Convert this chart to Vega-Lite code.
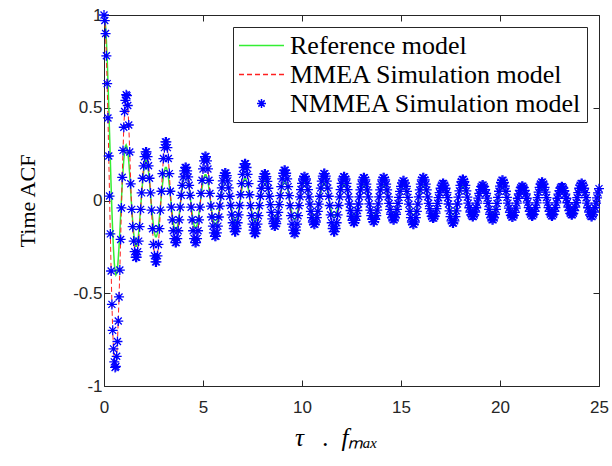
{
 "$schema": "https://vega.github.io/schema/vega-lite/v6.json",
 "width": 495, "height": 371,
 "autosize": {"type": "none"},
 "padding": {"left": 104, "top": 15, "right": 13, "bottom": 80},
 "background": "white",
 "config": {
  "view": {"stroke": "#262626", "strokeWidth": 1},
  "axis": {"grid": false, "domain": false, "tickSize": -6, "tickColor": "#262626", "tickWidth": 1, "labelFlush": false,
   "labelFont": "Liberation Sans", "labelFontSize": 17, "labelColor": "#262626",
   "titleFont": "Liberation Serif", "titleFontWeight": "normal", "titleColor": "#000000", "titleFontSize": 22}
 },
 "data": {"values": [
{"x":0,"r":1,"s":1},{"x":0.04,"r":0.984,"s":0.97},{"x":0.08,"r":0.938,"s":0.9},{"x":0.12,"r":0.863,"s":0.78},{"x":0.16,"r":0.763,"s":0.63},{"x":0.2,"r":0.643,"s":0.445},{"x":0.24,"r":0.507,"s":0.24},{"x":0.28,"r":0.364,"s":0.024},{"x":0.32,"r":0.218,"s":-0.18},{"x":0.36,"r":0.076,"s":-0.38},{"x":0.4,"r":-0.055,"s":-0.56},{"x":0.44,"r":-0.17,"s":-0.7},{"x":0.48,"r":-0.265,"s":-0.8},{"x":0.52,"r":-0.336,"s":-0.87},{"x":0.56,"r":-0.382,"s":-0.9},{"x":0.6,"r":-0.402,"s":-0.895},{"x":0.64,"r":-0.395,"s":-0.84},{"x":0.68,"r":-0.365,"s":-0.76},{"x":0.72,"r":-0.315,"s":-0.65},{"x":0.76,"r":-0.248,"s":-0.52},{"x":0.8,"r":-0.169,"s":-0.375},{"x":0.84,"r":-0.083,"s":-0.21},{"x":0.88,"r":0.003,"s":-0.04},{"x":0.92,"r":0.086,"s":0.125},{"x":0.96,"r":0.159,"s":0.27},{"x":1,"r":0.22,"s":0.395},{"x":1.04,"r":0.265,"s":0.48},{"x":1.08,"r":0.292,"s":0.54},{"x":1.12,"r":0.3,"s":0.57},{"x":1.16,"r":0.289,"s":0.565},{"x":1.2,"r":0.26,"s":0.512},
{"x":1.25,"r":0.212,"s":0.407},{"x":1.3,"r":0.136,"s":0.261},{"x":1.35,"r":0.047,"s":0.09},{"x":1.4,"r":-0.039,"s":-0.048},{"x":1.45,"r":-0.113,"s":-0.141},{"x":1.5,"r":-0.177,"s":-0.219},{"x":1.55,"r":-0.223,"s":-0.276},{"x":1.6,"r":-0.247,"s":-0.306},{"x":1.65,"r":-0.247,"s":-0.306},{"x":1.7,"r":-0.223,"s":-0.276},{"x":1.75,"r":-0.177,"s":-0.219},{"x":1.8,"r":-0.113,"s":-0.141},{"x":1.85,"r":-0.039,"s":-0.048},{"x":1.9,"r":0.034,"s":0.041},{"x":1.95,"r":0.099,"s":0.12},
{"x":2,"r":0.154,"s":0.187},{"x":2.05,"r":0.194,"s":0.236},{"x":2.1,"r":0.215,"s":0.262},{"x":2.15,"r":0.215,"s":0.262},{"x":2.2,"r":0.194,"s":0.236},{"x":2.25,"r":0.154,"s":0.187},{"x":2.3,"r":0.099,"s":0.12},{"x":2.35,"r":0.034,"s":0.041},{"x":2.4,"r":-0.031,"s":-0.052},{"x":2.45,"r":-0.089,"s":-0.152},{"x":2.5,"r":-0.139,"s":-0.237},{"x":2.55,"r":-0.176,"s":-0.298},{"x":2.6,"r":-0.195,"s":-0.331},{"x":2.65,"r":-0.195,"s":-0.331},{"x":2.7,"r":-0.176,"s":-0.298},{"x":2.75,"r":-0.139,"s":-0.237},{"x":2.8,"r":-0.089,"s":-0.152},{"x":2.85,"r":-0.031,"s":-0.052},{"x":2.9,"r":0.028,"s":0.05},{"x":2.95,"r":0.082,"s":0.145},
{"x":3,"r":0.127,"s":0.226},{"x":3.05,"r":0.16,"s":0.285},{"x":3.1,"r":0.178,"s":0.316},{"x":3.15,"r":0.178,"s":0.316},{"x":3.2,"r":0.16,"s":0.285},{"x":3.25,"r":0.127,"s":0.226},{"x":3.3,"r":0.082,"s":0.145},{"x":3.35,"r":0.028,"s":0.05},{"x":3.4,"r":-0.026,"s":-0.036},{"x":3.45,"r":-0.076,"s":-0.104},{"x":3.5,"r":-0.118,"s":-0.163},{"x":3.55,"r":-0.149,"s":-0.205},{"x":3.6,"r":-0.165,"s":-0.227},{"x":3.65,"r":-0.165,"s":-0.227},{"x":3.7,"r":-0.149,"s":-0.205},{"x":3.75,"r":-0.118,"s":-0.163},{"x":3.8,"r":-0.076,"s":-0.104},{"x":3.85,"r":-0.026,"s":-0.036},{"x":3.9,"r":0.025,"s":0.028},{"x":3.95,"r":0.071,"s":0.082},
{"x":4,"r":0.111,"s":0.127},{"x":4.05,"r":0.14,"s":0.16},{"x":4.1,"r":0.155,"s":0.178},{"x":4.15,"r":0.155,"s":0.178},{"x":4.2,"r":0.14,"s":0.16},{"x":4.25,"r":0.111,"s":0.127},{"x":4.3,"r":0.071,"s":0.082},{"x":4.35,"r":0.025,"s":0.028},{"x":4.4,"r":-0.023,"s":-0.036},{"x":4.45,"r":-0.067,"s":-0.104},{"x":4.5,"r":-0.105,"s":-0.163},{"x":4.55,"r":-0.132,"s":-0.205},{"x":4.6,"r":-0.146,"s":-0.227},{"x":4.65,"r":-0.146,"s":-0.227},{"x":4.7,"r":-0.132,"s":-0.205},{"x":4.75,"r":-0.105,"s":-0.163},{"x":4.8,"r":-0.067,"s":-0.104},{"x":4.85,"r":-0.023,"s":-0.036},{"x":4.9,"r":0.022,"s":0.038},{"x":4.95,"r":0.064,"s":0.109},
{"x":5,"r":0.1,"s":0.17},{"x":5.05,"r":0.126,"s":0.214},{"x":5.1,"r":0.139,"s":0.237},{"x":5.15,"r":0.139,"s":0.237},{"x":5.2,"r":0.126,"s":0.214},{"x":5.25,"r":0.1,"s":0.17},{"x":5.3,"r":0.064,"s":0.109},{"x":5.35,"r":0.022,"s":0.038},{"x":5.4,"r":-0.021,"s":-0.03},{"x":5.45,"r":-0.061,"s":-0.089},{"x":5.5,"r":-0.095,"s":-0.138},{"x":5.55,"r":-0.119,"s":-0.174},{"x":5.6,"r":-0.132,"s":-0.193},{"x":5.65,"r":-0.132,"s":-0.193},{"x":5.7,"r":-0.119,"s":-0.174},{"x":5.75,"r":-0.095,"s":-0.138},{"x":5.8,"r":-0.061,"s":-0.089},{"x":5.85,"r":-0.021,"s":-0.03},{"x":5.9,"r":0.02,"s":0.023},{"x":5.95,"r":0.059,"s":0.068},
{"x":6,"r":0.091,"s":0.106},{"x":6.05,"r":0.115,"s":0.134},{"x":6.1,"r":0.127,"s":0.148},{"x":6.15,"r":0.127,"s":0.148},{"x":6.2,"r":0.115,"s":0.134},{"x":6.25,"r":0.091,"s":0.106},{"x":6.3,"r":0.059,"s":0.068},{"x":6.35,"r":0.02,"s":0.023},{"x":6.4,"r":-0.019,"s":-0.027},{"x":6.45,"r":-0.056,"s":-0.077},{"x":6.5,"r":-0.088,"s":-0.12},{"x":6.55,"r":-0.11,"s":-0.151},{"x":6.6,"r":-0.122,"s":-0.168},{"x":6.65,"r":-0.122,"s":-0.168},{"x":6.7,"r":-0.11,"s":-0.151},{"x":6.75,"r":-0.088,"s":-0.12},{"x":6.8,"r":-0.056,"s":-0.077},{"x":6.85,"r":-0.019,"s":-0.027},{"x":6.9,"r":0.019,"s":0.031},{"x":6.95,"r":0.054,"s":0.091},
{"x":7,"r":0.084,"s":0.141},{"x":7.05,"r":0.106,"s":0.178},{"x":7.1,"r":0.118,"s":0.198},{"x":7.15,"r":0.118,"s":0.198},{"x":7.2,"r":0.106,"s":0.178},{"x":7.25,"r":0.084,"s":0.141},{"x":7.3,"r":0.054,"s":0.091},{"x":7.35,"r":0.019,"s":0.031},{"x":7.4,"r":-0.018,"s":-0.028},{"x":7.45,"r":-0.052,"s":-0.082},{"x":7.5,"r":-0.081,"s":-0.127},{"x":7.55,"r":-0.102,"s":-0.16},{"x":7.6,"r":-0.114,"s":-0.178},{"x":7.65,"r":-0.114,"s":-0.178},{"x":7.7,"r":-0.102,"s":-0.16},{"x":7.75,"r":-0.081,"s":-0.127},{"x":7.8,"r":-0.052,"s":-0.082},{"x":7.85,"r":-0.018,"s":-0.028},{"x":7.9,"r":0.018,"s":0.023},{"x":7.95,"r":0.051,"s":0.066},
{"x":8,"r":0.079,"s":0.103},{"x":8.05,"r":0.1,"s":0.129},{"x":8.1,"r":0.111,"s":0.143},{"x":8.15,"r":0.111,"s":0.143},{"x":8.2,"r":0.1,"s":0.129},{"x":8.25,"r":0.079,"s":0.103},{"x":8.3,"r":0.051,"s":0.066},{"x":8.35,"r":0.018,"s":0.023},{"x":8.4,"r":-0.017,"s":-0.022},{"x":8.45,"r":-0.049,"s":-0.064},{"x":8.5,"r":-0.076,"s":-0.099},{"x":8.55,"r":-0.096,"s":-0.125},{"x":8.6,"r":-0.107,"s":-0.138},{"x":8.65,"r":-0.107,"s":-0.138},{"x":8.7,"r":-0.096,"s":-0.125},{"x":8.75,"r":-0.076,"s":-0.099},{"x":8.8,"r":-0.049,"s":-0.064},{"x":8.85,"r":-0.017,"s":-0.022},{"x":8.9,"r":0.016,"s":0.026},{"x":8.95,"r":0.048,"s":0.075},
{"x":9,"r":0.074,"s":0.117},{"x":9.05,"r":0.094,"s":0.147},{"x":9.1,"r":0.104,"s":0.163},{"x":9.15,"r":0.104,"s":0.163},{"x":9.2,"r":0.094,"s":0.147},{"x":9.25,"r":0.074,"s":0.117},{"x":9.3,"r":0.048,"s":0.075},{"x":9.35,"r":0.016,"s":0.026},{"x":9.4,"r":-0.016,"s":-0.028},{"x":9.45,"r":-0.047,"s":-0.082},{"x":9.5,"r":-0.073,"s":-0.127},{"x":9.55,"r":-0.092,"s":-0.16},{"x":9.6,"r":-0.102,"s":-0.178},{"x":9.65,"r":-0.102,"s":-0.178},{"x":9.7,"r":-0.092,"s":-0.16},{"x":9.75,"r":-0.073,"s":-0.127},{"x":9.8,"r":-0.047,"s":-0.082},{"x":9.85,"r":-0.016,"s":-0.028},{"x":9.9,"r":0.016,"s":0.02},{"x":9.95,"r":0.045,"s":0.059},
{"x":10,"r":0.071,"s":0.092},{"x":10.05,"r":0.089,"s":0.116},{"x":10.1,"r":0.099,"s":0.128},{"x":10.15,"r":0.099,"s":0.128},{"x":10.2,"r":0.089,"s":0.116},{"x":10.25,"r":0.071,"s":0.092},{"x":10.3,"r":0.045,"s":0.059},{"x":10.35,"r":0.016,"s":0.02},{"x":10.4,"r":-0.015,"s":-0.02},{"x":10.45,"r":-0.044,"s":-0.059},{"x":10.5,"r":-0.069,"s":-0.092},{"x":10.55,"r":-0.087,"s":-0.116},{"x":10.6,"r":-0.097,"s":-0.128},{"x":10.65,"r":-0.097,"s":-0.128},{"x":10.7,"r":-0.087,"s":-0.116},{"x":10.75,"r":-0.069,"s":-0.092},{"x":10.8,"r":-0.044,"s":-0.059},{"x":10.85,"r":-0.015,"s":-0.02},{"x":10.9,"r":0.015,"s":0.023},{"x":10.95,"r":0.043,"s":0.067},
{"x":11,"r":0.067,"s":0.104},{"x":11.05,"r":0.085,"s":0.131},{"x":11.1,"r":0.094,"s":0.145},{"x":11.15,"r":0.094,"s":0.145},{"x":11.2,"r":0.085,"s":0.131},{"x":11.25,"r":0.067,"s":0.104},{"x":11.3,"r":0.043,"s":0.067},{"x":11.35,"r":0.015,"s":0.023},{"x":11.4,"r":-0.015,"s":-0.027},{"x":11.45,"r":-0.042,"s":-0.077},{"x":11.5,"r":-0.066,"s":-0.12},{"x":11.55,"r":-0.083,"s":-0.151},{"x":11.6,"r":-0.092,"s":-0.168},{"x":11.65,"r":-0.092,"s":-0.168},{"x":11.7,"r":-0.083,"s":-0.151},{"x":11.75,"r":-0.066,"s":-0.12},{"x":11.8,"r":-0.042,"s":-0.077},{"x":11.85,"r":-0.015,"s":-0.027},{"x":11.9,"r":0.014,"s":0.02},{"x":11.95,"r":0.041,"s":0.059},
{"x":12,"r":0.064,"s":0.092},{"x":12.05,"r":0.081,"s":0.116},{"x":12.1,"r":0.09,"s":0.128},{"x":12.15,"r":0.09,"s":0.128},{"x":12.2,"r":0.081,"s":0.116},{"x":12.25,"r":0.064,"s":0.092},{"x":12.3,"r":0.041,"s":0.059},{"x":12.35,"r":0.014,"s":0.02},{"x":12.4,"r":-0.014,"s":-0.019},{"x":12.45,"r":-0.041,"s":-0.054},{"x":12.5,"r":-0.064,"s":-0.085},{"x":12.55,"r":-0.08,"s":-0.107},{"x":12.6,"r":-0.089,"s":-0.119},{"x":12.65,"r":-0.089,"s":-0.119},{"x":12.7,"r":-0.08,"s":-0.107},{"x":12.75,"r":-0.064,"s":-0.085},{"x":12.8,"r":-0.041,"s":-0.054},{"x":12.85,"r":-0.014,"s":-0.019},{"x":12.9,"r":0.014,"s":0.02},{"x":12.95,"r":0.04,"s":0.057},
{"x":13,"r":0.062,"s":0.088},{"x":13.05,"r":0.078,"s":0.111},{"x":13.1,"r":0.087,"s":0.123},{"x":13.15,"r":0.087,"s":0.123},{"x":13.2,"r":0.078,"s":0.111},{"x":13.25,"r":0.062,"s":0.088},{"x":13.3,"r":0.04,"s":0.057},{"x":13.35,"r":0.014,"s":0.02},{"x":13.4,"r":-0.013,"s":-0.018},{"x":13.45,"r":-0.039,"s":-0.052},{"x":13.5,"r":-0.061,"s":-0.081},{"x":13.55,"r":-0.077,"s":-0.102},{"x":13.6,"r":-0.085,"s":-0.114},{"x":13.65,"r":-0.085,"s":-0.114},{"x":13.7,"r":-0.077,"s":-0.102},{"x":13.75,"r":-0.061,"s":-0.081},{"x":13.8,"r":-0.039,"s":-0.052},{"x":13.85,"r":-0.013,"s":-0.018},{"x":13.9,"r":0.013,"s":0.02},{"x":13.95,"r":0.039,"s":0.057},
{"x":14,"r":0.06,"s":0.088},{"x":14.05,"r":0.076,"s":0.111},{"x":14.1,"r":0.084,"s":0.123},{"x":14.15,"r":0.084,"s":0.123},{"x":14.2,"r":0.076,"s":0.111},{"x":14.25,"r":0.06,"s":0.088},{"x":14.3,"r":0.039,"s":0.057},{"x":14.35,"r":0.013,"s":0.02},{"x":14.4,"r":-0.013,"s":-0.016},{"x":14.45,"r":-0.038,"s":-0.048},{"x":14.5,"r":-0.059,"s":-0.074},{"x":14.55,"r":-0.074,"s":-0.094},{"x":14.6,"r":-0.082,"s":-0.104},{"x":14.65,"r":-0.082,"s":-0.104},{"x":14.7,"r":-0.074,"s":-0.094},{"x":14.75,"r":-0.059,"s":-0.074},{"x":14.8,"r":-0.038,"s":-0.048},{"x":14.85,"r":-0.013,"s":-0.016},{"x":14.9,"r":0.013,"s":0.017},{"x":14.95,"r":0.037,"s":0.049},
{"x":15,"r":0.058,"s":0.076},{"x":15.05,"r":0.073,"s":0.095},{"x":15.1,"r":0.081,"s":0.106},{"x":15.15,"r":0.081,"s":0.106},{"x":15.2,"r":0.073,"s":0.095},{"x":15.25,"r":0.058,"s":0.076},{"x":15.3,"r":0.037,"s":0.049},{"x":15.35,"r":0.013,"s":0.017},{"x":15.4,"r":-0.013,"s":-0.02},{"x":15.45,"r":-0.036,"s":-0.059},{"x":15.5,"r":-0.057,"s":-0.092},{"x":15.55,"r":-0.071,"s":-0.116},{"x":15.6,"r":-0.079,"s":-0.128},{"x":15.65,"r":-0.079,"s":-0.128},{"x":15.7,"r":-0.071,"s":-0.116},{"x":15.75,"r":-0.057,"s":-0.092},{"x":15.8,"r":-0.036,"s":-0.059},{"x":15.85,"r":-0.013,"s":-0.02},{"x":15.9,"r":0.012,"s":0.02},{"x":15.95,"r":0.036,"s":0.057},
{"x":16,"r":0.056,"s":0.088},{"x":16.05,"r":0.07,"s":0.111},{"x":16.1,"r":0.078,"s":0.123},{"x":16.15,"r":0.078,"s":0.123},{"x":16.2,"r":0.07,"s":0.111},{"x":16.25,"r":0.056,"s":0.088},{"x":16.3,"r":0.036,"s":0.057},{"x":16.35,"r":0.012,"s":0.02},{"x":16.4,"r":-0.012,"s":-0.015},{"x":16.45,"r":-0.035,"s":-0.044},{"x":16.5,"r":-0.055,"s":-0.068},{"x":16.55,"r":-0.069,"s":-0.086},{"x":16.6,"r":-0.077,"s":-0.095},{"x":16.65,"r":-0.077,"s":-0.095},{"x":16.7,"r":-0.069,"s":-0.086},{"x":16.75,"r":-0.055,"s":-0.068},{"x":16.8,"r":-0.035,"s":-0.044},{"x":16.85,"r":-0.012,"s":-0.015},{"x":16.9,"r":0.012,"s":0.015},{"x":16.95,"r":0.035,"s":0.042},
{"x":17,"r":0.054,"s":0.066},{"x":17.05,"r":0.069,"s":0.083},{"x":17.1,"r":0.076,"s":0.092},{"x":17.15,"r":0.076,"s":0.092},{"x":17.2,"r":0.069,"s":0.083},{"x":17.25,"r":0.054,"s":0.066},{"x":17.3,"r":0.035,"s":0.042},{"x":17.35,"r":0.012,"s":0.015},{"x":17.4,"r":-0.012,"s":-0.019},{"x":17.45,"r":-0.035,"s":-0.056},{"x":17.5,"r":-0.054,"s":-0.087},{"x":17.55,"r":-0.068,"s":-0.11},{"x":17.6,"r":-0.075,"s":-0.121},{"x":17.65,"r":-0.075,"s":-0.121},{"x":17.7,"r":-0.068,"s":-0.11},{"x":17.75,"r":-0.054,"s":-0.087},{"x":17.8,"r":-0.035,"s":-0.056},{"x":17.85,"r":-0.012,"s":-0.019},{"x":17.9,"r":0.012,"s":0.018},{"x":17.95,"r":0.034,"s":0.052},
{"x":18,"r":0.053,"s":0.081},{"x":18.05,"r":0.067,"s":0.102},{"x":18.1,"r":0.074,"s":0.113},{"x":18.15,"r":0.074,"s":0.113},{"x":18.2,"r":0.067,"s":0.102},{"x":18.25,"r":0.053,"s":0.081},{"x":18.3,"r":0.034,"s":0.052},{"x":18.35,"r":0.012,"s":0.018},{"x":18.4,"r":-0.012,"s":-0.014},{"x":18.45,"r":-0.034,"s":-0.039},{"x":18.5,"r":-0.052,"s":-0.062},{"x":18.55,"r":-0.066,"s":-0.078},{"x":18.6,"r":-0.073,"s":-0.086},{"x":18.65,"r":-0.073,"s":-0.086},{"x":18.7,"r":-0.066,"s":-0.078},{"x":18.75,"r":-0.052,"s":-0.062},{"x":18.8,"r":-0.034,"s":-0.039},{"x":18.85,"r":-0.012,"s":-0.014},{"x":18.9,"r":0.011,"s":0.013},{"x":18.95,"r":0.033,"s":0.038},
{"x":19,"r":0.052,"s":0.059},{"x":19.05,"r":0.065,"s":0.075},{"x":19.1,"r":0.072,"s":0.083},{"x":19.15,"r":0.072,"s":0.083},{"x":19.2,"r":0.065,"s":0.075},{"x":19.25,"r":0.052,"s":0.059},{"x":19.3,"r":0.033,"s":0.038},{"x":19.35,"r":0.011,"s":0.013},{"x":19.4,"r":-0.011,"s":-0.016},{"x":19.45,"r":-0.033,"s":-0.048},{"x":19.5,"r":-0.051,"s":-0.074},{"x":19.55,"r":-0.064,"s":-0.094},{"x":19.6,"r":-0.071,"s":-0.104},{"x":19.65,"r":-0.071,"s":-0.104},{"x":19.7,"r":-0.064,"s":-0.094},{"x":19.75,"r":-0.051,"s":-0.074},{"x":19.8,"r":-0.033,"s":-0.048},{"x":19.85,"r":-0.011,"s":-0.016},{"x":19.9,"r":0.011,"s":0.017},{"x":19.95,"r":0.032,"s":0.05},
{"x":20,"r":0.05,"s":0.078},{"x":20.05,"r":0.063,"s":0.098},{"x":20.1,"r":0.07,"s":0.109},{"x":20.15,"r":0.07,"s":0.109},{"x":20.2,"r":0.063,"s":0.098},{"x":20.25,"r":0.05,"s":0.078},{"x":20.3,"r":0.032,"s":0.05},{"x":20.35,"r":0.011,"s":0.017},{"x":20.4,"r":-0.011,"s":-0.014},{"x":20.45,"r":-0.032,"s":-0.041},{"x":20.5,"r":-0.049,"s":-0.064},{"x":20.55,"r":-0.062,"s":-0.08},{"x":20.6,"r":-0.069,"s":-0.089},{"x":20.65,"r":-0.069,"s":-0.089},{"x":20.7,"r":-0.062,"s":-0.08},{"x":20.75,"r":-0.049,"s":-0.064},{"x":20.8,"r":-0.032,"s":-0.041},{"x":20.85,"r":-0.011,"s":-0.014},{"x":20.9,"r":0.011,"s":0.012},{"x":20.95,"r":0.031,"s":0.035},
{"x":21,"r":0.049,"s":0.055},{"x":21.05,"r":0.061,"s":0.069},{"x":21.1,"r":0.068,"s":0.077},{"x":21.15,"r":0.068,"s":0.077},{"x":21.2,"r":0.061,"s":0.069},{"x":21.25,"r":0.049,"s":0.055},{"x":21.3,"r":0.031,"s":0.035},{"x":21.35,"r":0.011,"s":0.012},{"x":21.4,"r":-0.011,"s":-0.013},{"x":21.45,"r":-0.031,"s":-0.038},{"x":21.5,"r":-0.049,"s":-0.059},{"x":21.55,"r":-0.061,"s":-0.075},{"x":21.6,"r":-0.068,"s":-0.083},{"x":21.65,"r":-0.068,"s":-0.083},{"x":21.7,"r":-0.061,"s":-0.075},{"x":21.75,"r":-0.049,"s":-0.059},{"x":21.8,"r":-0.031,"s":-0.038},{"x":21.85,"r":-0.011,"s":-0.013},{"x":21.9,"r":0.011,"s":0.016},{"x":21.95,"r":0.031,"s":0.045},
{"x":22,"r":0.048,"s":0.071},{"x":22.05,"r":0.061,"s":0.089},{"x":22.1,"r":0.067,"s":0.099},{"x":22.15,"r":0.067,"s":0.099},{"x":22.2,"r":0.061,"s":0.089},{"x":22.25,"r":0.048,"s":0.071},{"x":22.3,"r":0.031,"s":0.045},{"x":22.35,"r":0.011,"s":0.016},{"x":22.4,"r":-0.01,"s":-0.013},{"x":22.45,"r":-0.03,"s":-0.038},{"x":22.5,"r":-0.047,"s":-0.059},{"x":22.55,"r":-0.06,"s":-0.075},{"x":22.6,"r":-0.066,"s":-0.083},{"x":22.65,"r":-0.066,"s":-0.083},{"x":22.7,"r":-0.06,"s":-0.075},{"x":22.75,"r":-0.047,"s":-0.059},{"x":22.8,"r":-0.03,"s":-0.038},{"x":22.85,"r":-0.01,"s":-0.013},{"x":22.9,"r":0.01,"s":0.012},{"x":22.95,"r":0.03,"s":0.034},
{"x":23,"r":0.047,"s":0.053},{"x":23.05,"r":0.059,"s":0.067},{"x":23.1,"r":0.065,"s":0.074},{"x":23.15,"r":0.065,"s":0.074},{"x":23.2,"r":0.059,"s":0.067},{"x":23.25,"r":0.047,"s":0.053},{"x":23.3,"r":0.03,"s":0.034},{"x":23.35,"r":0.01,"s":0.012},{"x":23.4,"r":-0.01,"s":-0.012},{"x":23.45,"r":-0.03,"s":-0.035},{"x":23.5,"r":-0.047,"s":-0.055},{"x":23.55,"r":-0.059,"s":-0.069},{"x":23.6,"r":-0.065,"s":-0.077},{"x":23.65,"r":-0.065,"s":-0.077},{"x":23.7,"r":-0.059,"s":-0.069},{"x":23.75,"r":-0.047,"s":-0.055},{"x":23.8,"r":-0.03,"s":-0.035},{"x":23.85,"r":-0.01,"s":-0.012},{"x":23.9,"r":0.01,"s":0.015},{"x":23.95,"r":0.03,"s":0.042},
{"x":24,"r":0.046,"s":0.066},{"x":24.05,"r":0.058,"s":0.083},{"x":24.1,"r":0.064,"s":0.092},{"x":24.15,"r":0.064,"s":0.092},{"x":24.2,"r":0.058,"s":0.083},{"x":24.25,"r":0.046,"s":0.066},{"x":24.3,"r":0.03,"s":0.042},{"x":24.35,"r":0.01,"s":0.015},{"x":24.4,"r":-0.01,"s":-0.014},{"x":24.45,"r":-0.029,"s":-0.039},{"x":24.5,"r":-0.045,"s":-0.062},{"x":24.55,"r":-0.057,"s":-0.078},{"x":24.6,"r":-0.063,"s":-0.086},{"x":24.65,"r":-0.063,"s":-0.086},{"x":24.7,"r":-0.057,"s":-0.078},{"x":24.75,"r":-0.045,"s":-0.062},{"x":24.8,"r":-0.029,"s":-0.039},{"x":24.85,"r":-0.01,"s":-0.014},{"x":24.9,"r":0.01,"s":0.014},{"x":24.95,"r":0.029,"s":0.041},{"x":25,"r":0.045,"s":0.064}
 ]},
 "layer": [
  {
   "mark": {"type": "line", "strokeWidth": 1.5},
   "encoding": {
    "x": {"field": "x", "type": "quantitative", "scale": {"domain": [0, 25], "nice": false},
     "axis": {"orient": "bottom", "values": [0, 5, 10, 15, 20, 25], "labelPadding": 19, "title": "τ\u00a0\u00a0\u00a0.\u00a0\u00a0fₘₐₓ\u00a0\u00a0\u00a0\u00a0\u00a0\u200b", "titleFontStyle": "italic", "titleFontSize": 25, "titlePadding": 10}},
    "y": {"field": "r", "type": "quantitative", "scale": {"domain": [-1, 1], "nice": false},
     "axis": {"orient": "left", "values": [-1, -0.5, 0, 0.5, 1], "labelExpr": "'' + datum.value", "labelPadding": 8, "title": "Time ACF", "titlePadding": 33}},
    "color": {"datum": "Reference model", "type": "nominal",
     "scale": {"domain": ["Reference model", "MMEA Simulation model", "NMMEA Simulation model"], "range": ["#33ee33", "#ff2020", "#0000ff"]},
     "legend": {"orient": "top-right", "offset": 12, "title": null,
      "fillColor": "white", "strokeColor": "#262626", "padding": 5,
      "labelFont": "Liberation Serif", "labelFontSize": 26, "labelColor": "#000000", "labelOffset": 5, "labelLimit": 400,
      "rowPadding": 2, "symbolSize": 2025, "symbolStrokeWidth": 1.5, "symbolType": "stroke", "clipHeight": 27,
      "encode": {"symbols": {"update": {
       "shape": {"signal": "datum.value === 'NMMEA Simulation model' ? 'M-0.2,0L0.2,0M0,-0.2L0,0.2M-0.14,-0.14L0.14,0.14M-0.14,0.14L0.14,-0.14' : 'stroke'"},
       "strokeDash": {"signal": "datum.value === 'MMEA Simulation model' ? [5,3] : null"},
       "stroke": {"signal": "datum.value === 'Reference model' ? '#33ee33' : datum.value === 'MMEA Simulation model' ? '#ff2020' : '#0000ff'"},
       "fill": {"value": "transparent"},
       "opacity": {"value": 1}
      }}}}
    }
   }
  },
  {
   "mark": {"type": "line", "strokeWidth": 1, "strokeDash": [5, 3]},
   "encoding": {
    "x": {"field": "x", "type": "quantitative", "axis": {"orient": "top", "values": [0, 5, 10, 15, 20, 25], "labels": false, "title": null}},
    "y": {"field": "s", "type": "quantitative", "axis": {"orient": "right", "values": [-1, -0.5, 0, 0.5, 1], "labels": false, "title": null}},
    "color": {"datum": "MMEA Simulation model", "type": "nominal"}
   }
  },
  {
   "mark": {"type": "point", "shape": "M-1,0L1,0M0,-1L0,1M-0.7,-0.7L0.7,0.7M-0.7,0.7L0.7,-0.7", "filled": false, "strokeWidth": 1.3, "size": 100, "opacity": 1},
   "encoding": {
    "x": {"field": "x", "type": "quantitative", "axis": null},
    "y": {"field": "s", "type": "quantitative", "axis": null},
    "color": {"datum": "NMMEA Simulation model", "type": "nominal"}
   }
  }
 ]
}
